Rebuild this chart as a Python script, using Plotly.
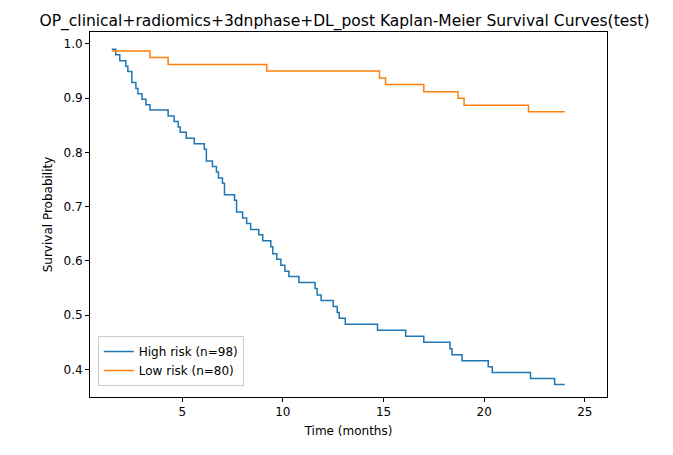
import plotly.graph_objects as go

# Kaplan-Meier step points
high_t = [1.5, 1.7, 1.9, 2.2, 2.3, 2.5, 2.7, 2.8, 3.0, 3.2, 3.4, 4.3, 4.6, 4.8, 4.9, 5.2, 5.6,
          6.1, 6.2, 6.5, 6.7, 6.8, 7.0, 7.1, 7.6, 7.7, 8.0, 8.2, 8.4, 8.8, 9.0, 9.4, 9.5, 9.7,
          9.9, 10.1, 10.3, 10.8, 11.6, 11.7, 11.9, 12.5, 12.7, 12.8, 13.1, 14.7, 16.1, 17.0,
          18.3, 18.4, 18.9, 20.2, 20.4, 22.3, 23.5, 24.0]
high_s = [0.990, 0.980, 0.969, 0.959, 0.949, 0.929, 0.918, 0.908, 0.898, 0.888, 0.878, 0.867,
          0.857, 0.847, 0.837, 0.826, 0.816, 0.806, 0.784, 0.774, 0.764, 0.753, 0.743, 0.722,
          0.712, 0.690, 0.679, 0.669, 0.658, 0.648, 0.637, 0.626, 0.613, 0.603, 0.592, 0.581,
          0.571, 0.560, 0.549, 0.537, 0.527, 0.516, 0.505, 0.494, 0.483, 0.472, 0.461, 0.450,
          0.438, 0.427, 0.416, 0.405, 0.394, 0.383, 0.372, 0.372]
low_t = [1.5, 3.4, 4.3, 9.2, 14.8, 15.1, 17.0, 18.7, 19.0, 22.2, 24.0]
low_s = [0.987, 0.975, 0.962, 0.950, 0.937, 0.925, 0.912, 0.900, 0.887, 0.875, 0.875]

fig = go.Figure()
fig.add_trace(go.Scatter(x=high_t, y=high_s, mode="lines", line_shape="hv",
                         line=dict(color="#1f77b4", width=1.5), name="High risk (n=98)"))
fig.add_trace(go.Scatter(x=low_t, y=low_s, mode="lines", line_shape="hv",
                         line=dict(color="#ff7f0e", width=1.5), name="Low risk (n=80)"))

axis = dict(showgrid=False, zeroline=False, showline=True, linecolor="black", mirror=True,
            ticks="outside", ticklen=4, tickcolor="black", automargin=False,
            tickfont=dict(size=12, color="black"))
fig.update_xaxes(axis, range=[0.42, 26.1], tickvals=[5, 10, 15, 20, 25],
                 title=dict(text="Time (months)", font=dict(size=12, color="black"), standoff=8))
fig.update_yaxes(axis, range=[0.349, 1.022], tickvals=[0.4, 0.5, 0.6, 0.7, 0.8, 0.9, 1.0],
                 tickformat=".1f",
                 title=dict(text="Survival Probability", font=dict(size=12, color="black"), standoff=8))
fig.update_layout(
    width=673, height=455,
    margin=dict(l=82, r=74, t=24, b=66),
    plot_bgcolor="white", paper_bgcolor="white",
    font=dict(family="DejaVu Sans", color="black"),
    title=dict(text="OP_clinical+radiomics+3dnphase+DL_post Kaplan-Meier Survival Curves(test)",
               x=0.5, xanchor="center", y=0.985, yanchor="top",
               font=dict(size=15.5, color="black")),
    legend=dict(x=0.015, y=0.03, xanchor="left", yanchor="bottom", bgcolor="white",
                bordercolor="#cccccc", borderwidth=1, font=dict(size=12)),
)
fig.write_html("out.html")
